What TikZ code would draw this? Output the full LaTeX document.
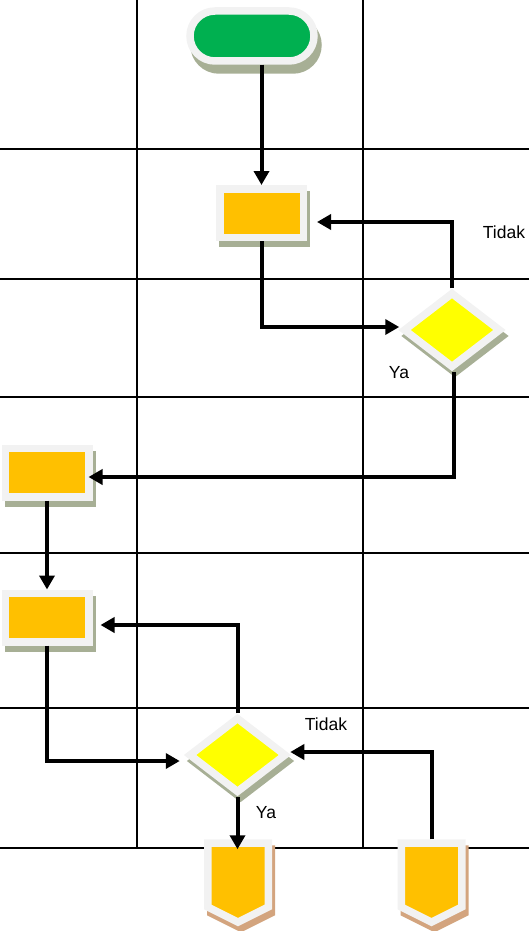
\documentclass[tikz,border=0pt]{standalone}
\usepackage{fontspec}
\setmainfont{Liberation Sans}
\usetikzlibrary{arrows.meta,shapes.geometric,shapes.misc,shapes.symbols}

\definecolor{greenF}{HTML}{00B050}
\definecolor{orangeF}{HTML}{FFC000}
\definecolor{yellowF}{HTML}{FFFF00}
\definecolor{rimc}{HTML}{F2F2F2}
\definecolor{shadeG}{HTML}{A7AF95}
\definecolor{shadeT}{HTML}{D3A47E}

\tikzset{
  gridline/.style={line width=1.8pt, black},
  rimmed/.style={draw=rimc, line width=7.5pt, inner sep=0pt, outer sep=3.75pt},
  terminal/.style={rounded rectangle, rimmed, fill=greenF,
      minimum width=124pt, minimum height=50pt,
      preaction={draw=shadeG, fill=shadeG, line width=7.5pt,
        transform canvas={xshift=4pt, yshift=-9pt}}},
  procbox/.style={rectangle, rimmed, fill=orangeF,
      minimum width=83.5pt, minimum height=48.5pt,
      preaction={draw=shadeG, fill=shadeG, line width=7.5pt,
        transform canvas={xshift=3pt, yshift=-6pt}}},
  decision/.style={diamond, rimmed, fill=yellowF,
      minimum width=98pt, minimum height=76pt,
      preaction={draw=shadeG, fill=shadeG, line width=7.5pt,
        transform canvas={xshift=3pt, yshift=-6pt}}},
  offpage/.style={signal, signal to=south, signal pointer angle=127,
      rimmed, fill=orangeF, minimum width=60.5pt, minimum height=64pt,
      preaction={draw=shadeT, fill=shadeT, line width=7.5pt,
        transform canvas={xshift=3pt, yshift=-6pt}}},
  arr/.style={line width=4pt, black, -{Triangle[length=14pt,width=15pt]}},
  lbl/.style={font=\fontsize{17.5}{20}\selectfont, inner sep=0pt, anchor=base}
}

\begin{document}
\begin{tikzpicture}[x=1pt, y=-1pt]
  \useasboundingbox (0,0) rectangle (529,931);

  % table grid behind the flowchart
  \draw[gridline] (137,0) -- (137,848);
  \draw[gridline] (363,0) -- (363,848);
  \foreach \yy in {149,279,397,553,708,848}
    \draw[gridline] (0,\yy) -- (529,\yy);

  % flowchart symbols
  \node[terminal] (start) at (252,36) {};
  \node[procbox]  (b1)    at (261.5,213) {};
  \node[decision] (d1)    at (452,330) {};
  \node[procbox]  (b2)    at (47,472.5) {};
  \node[procbox]  (b3)    at (47,617.5) {};
  \node[decision] (d2)    at (237.5,755) {};
  \node[offpage]  (c1)    at (238,875) {};
  \node[offpage]  (c2)    at (431.5,875) {};

  % connectors
  \draw[arr] (start.south -| b1.north) -- (b1.north);
  \draw[arr] (b1.south) |- ([yshift=3pt]d1.west);
  \draw[arr, shorten >=10pt] (d1.north) |- ([yshift=-9pt]b1.east);
  \draw[arr, shorten >=-4pt] ([xshift=2pt]d1.south) |- ([yshift=-4.5pt]b2.east);
  \draw[arr] (b2.south) -- (b2.south |- b3.north);
  \draw[arr, shorten >=8pt] (d2.north) |- ([yshift=-7.5pt]b3.east);
  \draw[arr, shorten >=5pt] (b3.south) |- ([yshift=-6pt]d2.west);
  \draw[arr] (c2.north) |- ([yshift=3pt]d2.east);
  \draw[arr, shorten >=-10pt] (d2.south) -- (d2.south |- c1.north);

  % branch labels
  \node[lbl] (t1) at (504,238) {Tidak};
  \node[lbl] (y1) at (399,378) {Ya};
  \node[lbl] (t2) at (326,730) {Tidak};
  \node[lbl] (y2) at (266,818) {Ya};
\end{tikzpicture}
\end{document}
